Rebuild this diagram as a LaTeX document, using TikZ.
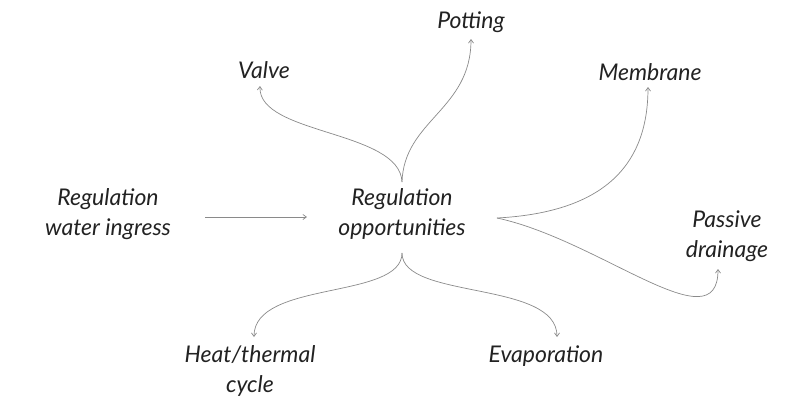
\documentclass[tikz,border=0pt]{standalone}
\usepackage{fontspec}
\setmainfont{Lato}
\usetikzlibrary{arrows.meta}
\definecolor{linec}{HTML}{8A8A8A}
\definecolor{txtc}{HTML}{222222}
\tikzset{
  lbl/.style={font=\itshape\fontsize{23}{30}\selectfont, text=txtc, align=center, inner sep=0pt},
  conn/.style={draw=linec, line width=0.7pt, -{Straight Barb[length=3.5pt,width=5pt]}}
}
\begin{document}
\begin{tikzpicture}[x=1pt,y=-1pt]
\useasboundingbox (0,0) rectangle (798,399);
\node[lbl] (potting) at (471,22) {Potting};
\node[lbl] (valve) at (264,70) {Valve};
\node[lbl] (membrane) at (650,72) {Membrane};
\node[lbl] (ingress) at (108,214) {Regulation\\water ingress};
\node[lbl] (opp) at (402,214) {Regulation\\opportunities};
\node[lbl] (passive) at (727,236) {Passive\\drainage};
\node[lbl] (heat) at (250,371) {Heat/thermal\\cycle};
\node[lbl] (evap) at (546,356) {Evaporation};
\coordinate (top) at (402,182);
\coordinate (bot) at (402,253);
\coordinate (right) at (497,218);
\coordinate (ingressout) at (205,217);
\coordinate (oppin) at (307,217);
\coordinate (valvein) at (260,86);
\coordinate (pottingin) at (471,39);
\coordinate (membranein) at (648,87);
\coordinate (passivein) at (718,269);
\coordinate (heatin) at (254,337);
\coordinate (evapin) at (557,337);
\draw[conn] (ingressout) -- (oppin);
\draw[conn] (top) .. controls (400,130) and (258,135) .. (valvein);
\draw[conn] (top) .. controls (404,120) and (471,110) .. (pottingin);
\draw[conn] (right) .. controls (610,212) and (648,160) .. (membranein);
\draw[conn] (right) .. controls (600,240) and (718,345) .. (passivein);
\draw[conn] (bot) .. controls (402,300) and (254,280) .. (heatin);
\draw[conn] (bot) .. controls (402,300) and (557,280) .. (evapin);
\end{tikzpicture}
\end{document}
